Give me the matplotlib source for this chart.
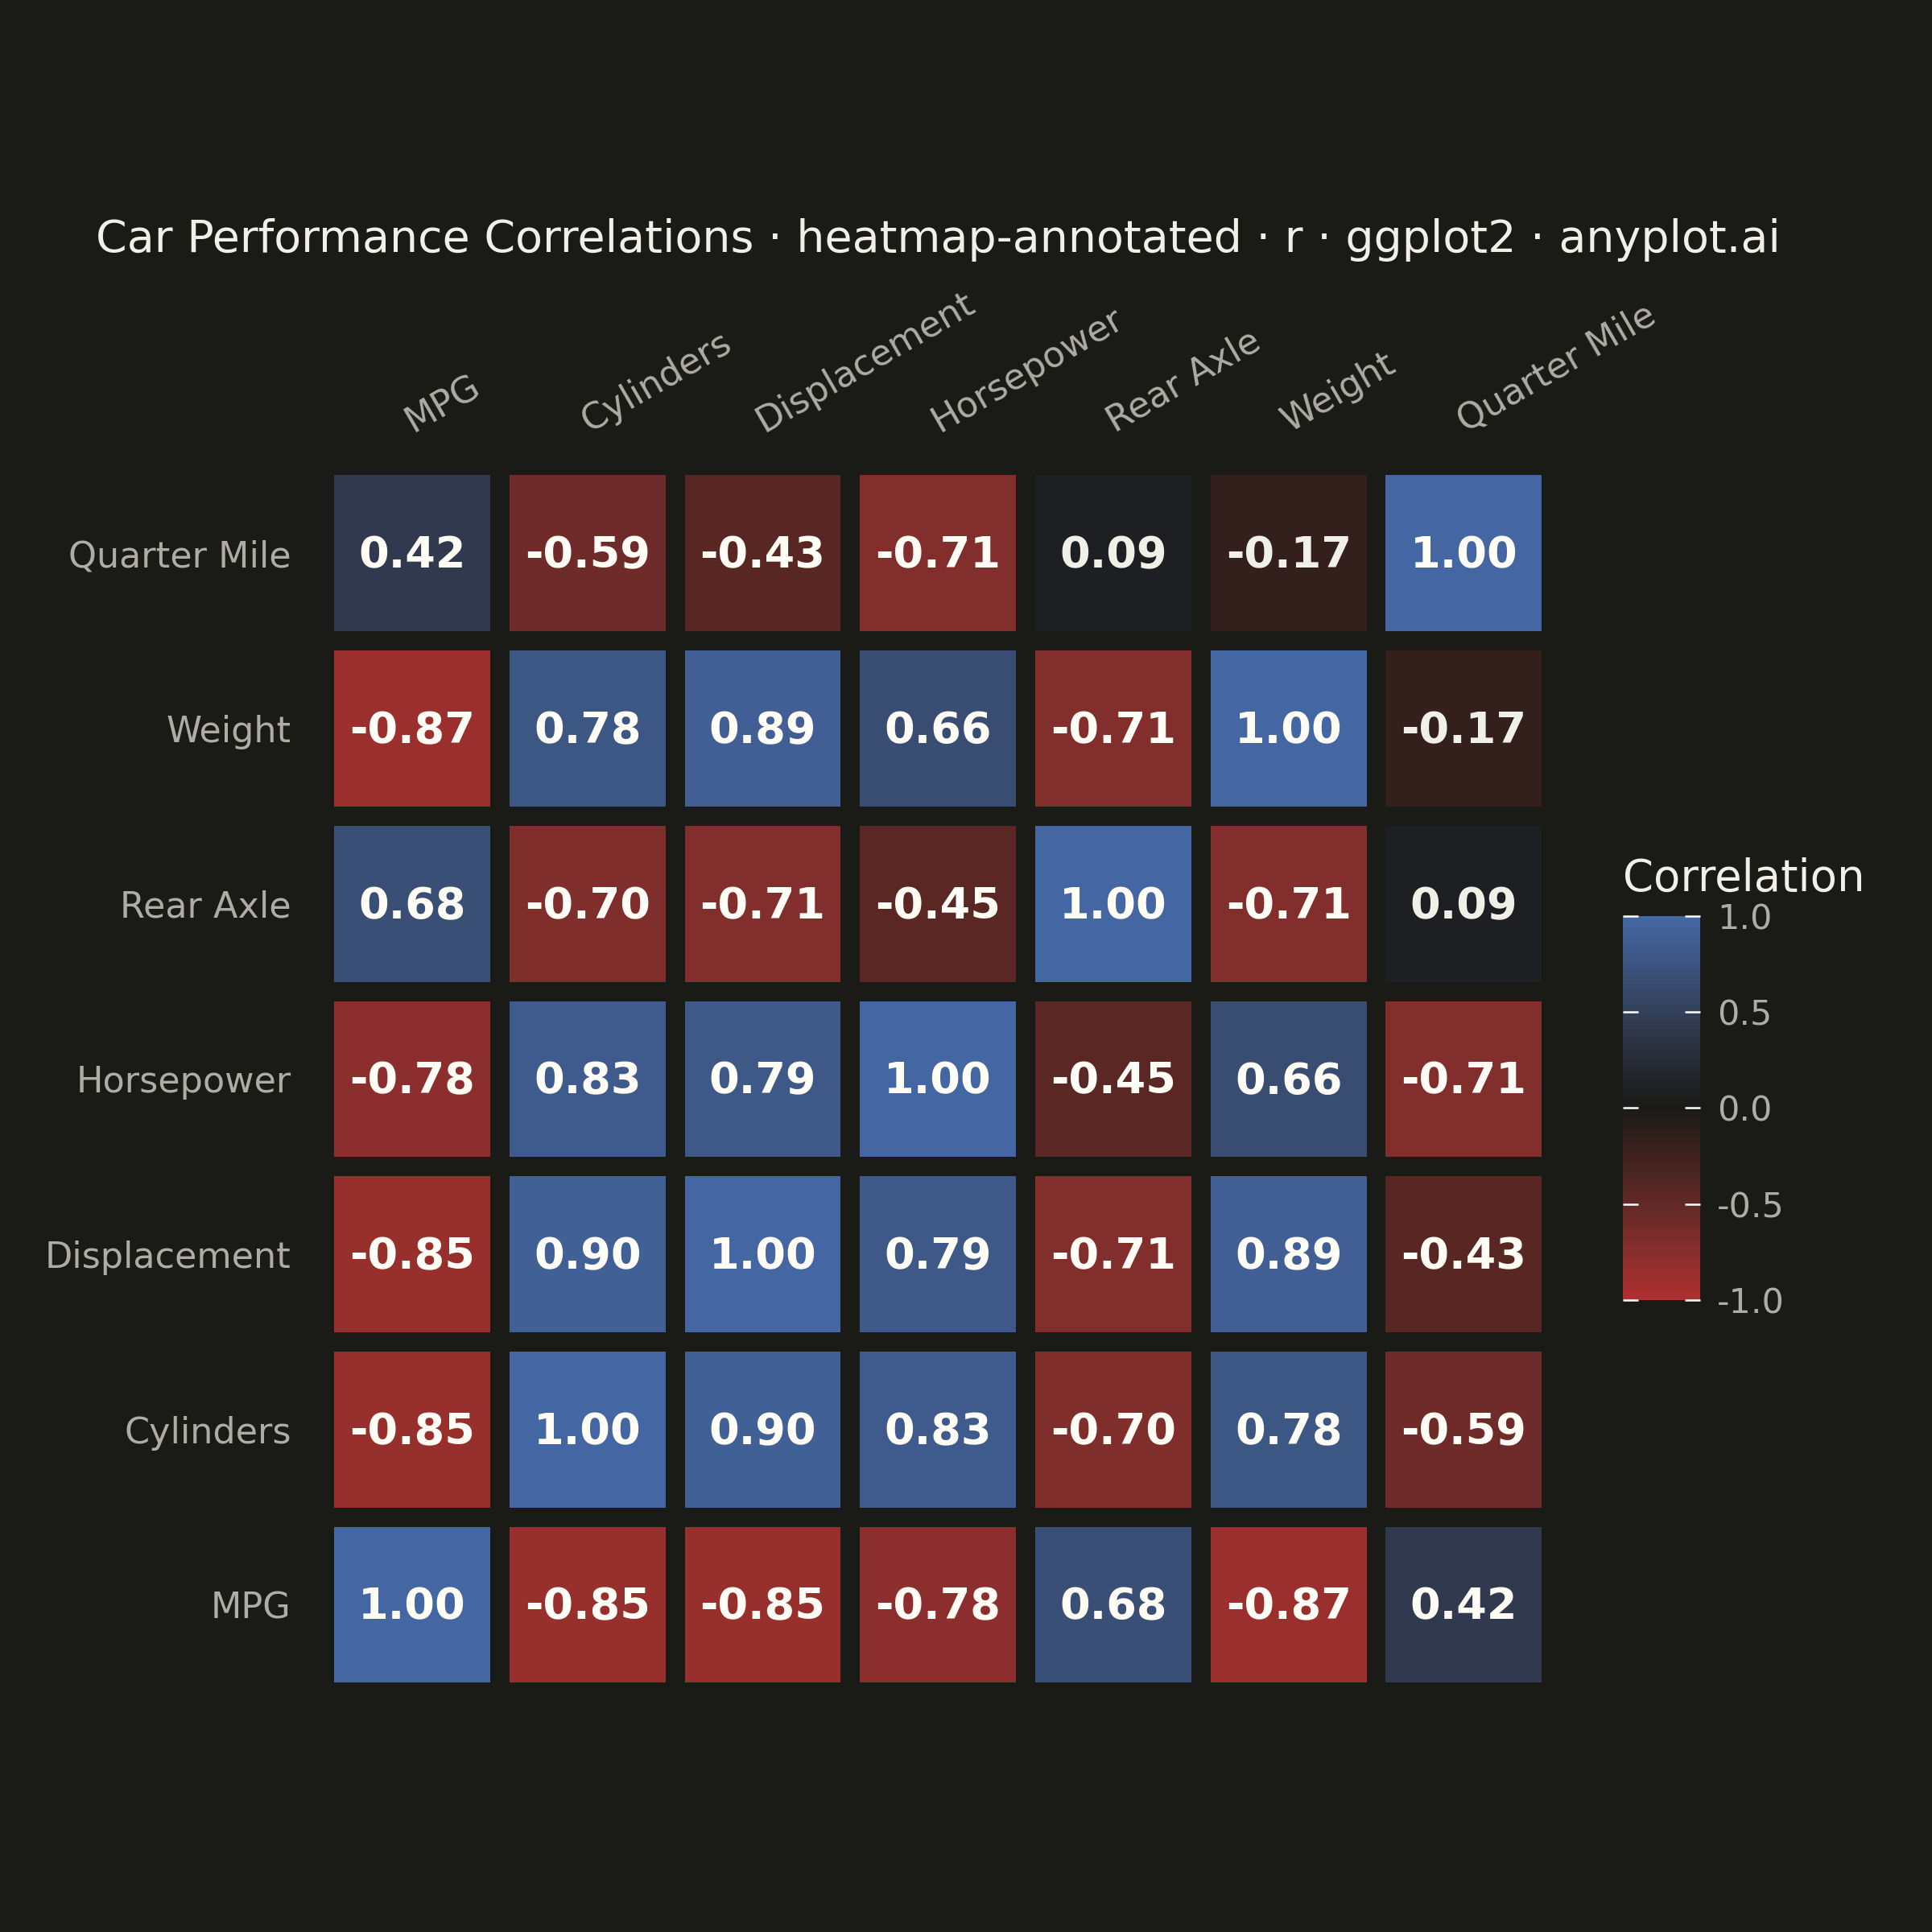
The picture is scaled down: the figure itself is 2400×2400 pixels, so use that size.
import numpy as np
import matplotlib
matplotlib.use('Agg')
import matplotlib.pyplot as plt
from matplotlib.colors import LinearSegmentedColormap, Normalize
from matplotlib.cm import ScalarMappable
from matplotlib.transforms import ScaledTranslation


variables = ['MPG', 'Cylinders', 'Displacement', 'Horsepower', 'Rear Axle', 'Weight', 'Quarter Mile']

# rows go from MPG (bottom) to Quarter Mile (top), columns same order
corr = np.array([
    [1.00, -0.85, -0.85, -0.78, 0.68, -0.87, 0.42],
    [-0.85, 1.00, 0.90, 0.83, -0.70, 0.78, -0.59],
    [-0.85, 0.90, 1.00, 0.79, -0.71, 0.89, -0.43],
    [-0.78, 0.83, 0.79, 1.00, -0.45, 0.66, -0.71],
    [0.68, -0.70, -0.71, -0.45, 1.00, -0.71, 0.09],
    [-0.87, 0.78, 0.89, 0.66, -0.71, 1.00, -0.17],
    [0.42, -0.59, -0.43, -0.71, 0.09, -0.17, 1.00],
])

title = 'Car Performance Correlations · heatmap-annotated · r · ggplot2 · anyplot.ai'

bg = '#1a1a17'
ink = '#f0efe8'
muted = '#aeada5'

# diverging scale: red - background - blue
stops = [(0.0, '#ae302f'), (0.145, '#812e2c'), (0.205, '#6e2b29'), (0.415, '#33201c'),
         (0.5, '#1a1a17'), (0.545, '#1e1f22'), (0.71, '#30394d'), (0.89, '#3d5785'),
         (1.0, '#4467a3')]
cmap = LinearSegmentedColormap.from_list('corr', stops)
norm = Normalize(vmin=-1, vmax=1)

fig = plt.figure(figsize=(8, 8), dpi=300, facecolor=bg)
ax = fig.add_axes([0.168, 0.124, 0.635, 0.635])
ax.set_facecolor(bg)

n = len(variables)
x = np.arange(1, n + 1)
for i in range(n):
    vals = corr[i]
    ax.bar(x, 0.89, width=0.89, bottom=i + 1 - 0.445, color=cmap(norm(vals)), linewidth=0)
    for j in range(n):
        txt_col = ink if abs(vals[j]) < 0.3 else '#fffdf5'
        ax.text(x[j], i + 1 - 0.015, f'{vals[j]:.2f}', ha='center', va='center',
                fontsize=13.0, fontweight='bold', color=txt_col)

ax.set_xlim(0.5, n + 0.5)
ax.set_ylim(0.5, n + 0.5)
for s in ax.spines.values():
    s.set_visible(False)

ax.xaxis.tick_top()
ax.set_xticks(x)
ax.set_xticklabels(variables, rotation=30, ha='left', rotation_mode='anchor',
                   color=muted, fontsize=10.7)
ax.set_yticks(x)
ax.set_yticklabels(variables, color=muted, fontsize=10.7)
ax.tick_params(axis='x', length=0, pad=8)
ax.tick_params(axis='y', length=0, pad=10)
shift = ScaledTranslation(1.5 / 72, 0, fig.dpi_scale_trans)
for lbl in ax.get_xticklabels():
    lbl.set_transform(lbl.get_transform() + shift)

fig.text(0.0496, 0.8757, title, color=ink, fontsize=13.34, ha='left', va='center')

# colorbar
cax = fig.add_axes([0.840, 0.327, 0.040, 0.199])
sm = ScalarMappable(norm=norm, cmap=cmap)
cb = fig.colorbar(sm, cax=cax, ticks=[-1, -0.5, 0, 0.5, 1])
cb.outline.set_visible(False)
cb.ax.set_yticklabels(['-1.0', '-0.5', '0.0', '0.5', '1.0'])
cb.ax.tick_params(direction='in', length=4.6, width=0.6, color='white',
                  left=True, right=True, labelcolor=muted, labelsize=10.3, pad=5)
fig.text(0.840, 0.545, 'Correlation', color=ink, fontsize=13.1, ha='left', va='center')

fig.savefig('out.png', dpi=300, facecolor=bg)
